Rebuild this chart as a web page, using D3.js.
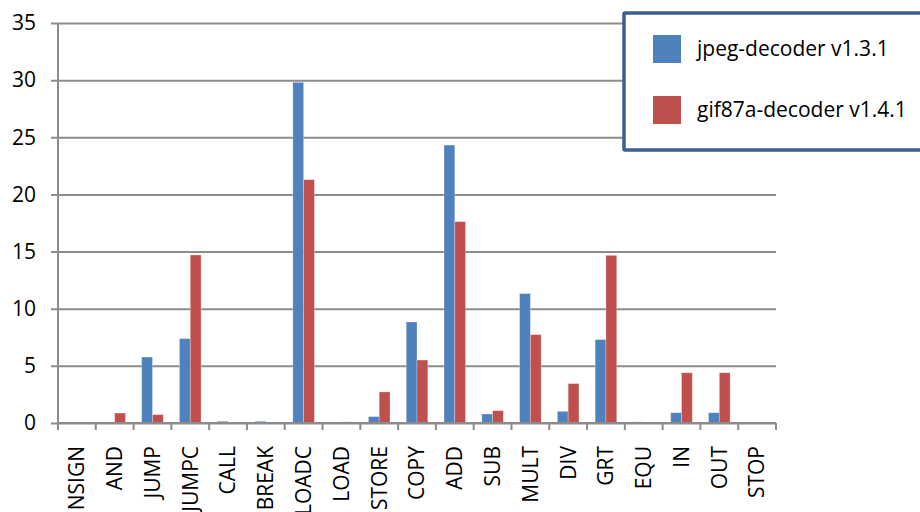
<!DOCTYPE html>
<html>
<head>
<meta charset="utf-8">
<script src="https://cdn.jsdelivr.net/npm/d3@7"></script>
<style>
  html, body { margin: 0; padding: 0; background: #fff; }
  svg { display: block; }
  text { font-family: "Open Sans", "Liberation Sans", sans-serif; fill: #000; }
</style>
</head>
<body>
<svg id="chart" width="920" height="512"></svg>
<script>
// Instruction mix per opcode (percent of executed instructions)
const categories = ["NSIGN", "AND", "JUMP", "JUMPC", "CALL", "BREAK", "LOADC", "LOAD",
  "STORE", "COPY", "ADD", "SUB", "MULT", "DIV", "GRT", "EQU", "IN", "OUT", "STOP"];
const seriesNames = ["jpeg-decoder v1.3.1", "gif87a-decoder v1.4.1"];
const jpegValues = [0, 0.05, 5.77, 7.38, 0.15, 0.15, 29.81, 0, 0.56, 8.84, 24.32, 0.79,
  11.32, 1.02, 7.30, 0.1, 0.9, 0.9, 0];
const gifValues = [0, 0.87, 0.73, 14.70, 0.05, 0.05, 21.29, 0.1, 2.72, 5.51, 17.62, 1.08,
  7.73, 3.45, 14.67, 0, 4.4, 4.4, 0];
const yTicks = [0, 5, 10, 15, 20, 25, 30, 35];
const colors = ["#4f81bd", "#c0504d"];

const svg = d3.select("#chart");
const plotLeft = 58, plotRight = 776, plotTop = 23, plotBottom = 423;
const fontSize = 21;

const x = d3.scaleBand().domain(categories).range([plotLeft, plotRight]).padding(0);
const inner = d3.scaleBand().domain(d3.range(seriesNames.length))
  .range([0, x.bandwidth()]).paddingInner(0).paddingOuter(0.75);
const y = d3.scaleLinear().domain([0, 35]).range([plotBottom, plotTop]);

// Horizontal gridlines with y tick labels
const yAxis = d3.axisLeft(y).tickValues(yTicks).tickSize(-(plotRight - 51)).tickPadding(14);
const gy = svg.append("g").attr("transform", `translate(51,0)`).call(yAxis);
gy.select(".domain").remove();
gy.selectAll(".tick line").attr("stroke", "#8c8c8c").attr("stroke-width", 2);
gy.selectAll(".tick text").attr("font-size", fontSize).attr("x", -15)
  .attr("font-family", "'Open Sans', sans-serif");

// Vertical axis line
svg.append("line").attr("x1", plotLeft).attr("x2", plotLeft)
  .attr("y1", plotTop).attr("y2", plotBottom + 6)
  .attr("stroke", "#8c8c8c").attr("stroke-width", 2);

// Bars
const rows = categories.map((c, i) => ({ c, v: [jpegValues[i], gifValues[i]] }));
const groups = svg.append("g").selectAll("g").data(rows).join("g")
  .attr("transform", d => `translate(${x(d.c)},0)`);
groups.selectAll("rect").data(d => d.v.map((v, k) => ({ v, k }))).join("rect")
  .attr("x", d => inner(d.k))
  .attr("width", inner.bandwidth())
  .attr("y", d => y(d.v))
  .attr("height", d => y(0) - y(d.v))
  .attr("fill", d => colors[d.k])
  .attr("stroke", "rgba(255,255,255,0.35)")
  .attr("stroke-width", 0.8);

// Category axis
svg.append("line").attr("x1", plotLeft).attr("x2", plotRight)
  .attr("y1", plotBottom).attr("y2", plotBottom)
  .attr("stroke", "#8c8c8c").attr("stroke-width", 2);
const tickPos = categories.map(c => x(c)).concat([plotRight]);
svg.append("g").selectAll("line").data(tickPos).join("line")
  .attr("x1", d => d).attr("x2", d => d).attr("y1", plotBottom).attr("y2", plotBottom + 7)
  .attr("stroke", "#8c8c8c").attr("stroke-width", 2);
svg.append("g").selectAll("text").data(categories).join("text")
  .attr("transform", d => `translate(${x(d) + x.bandwidth() / 2},446) rotate(-90)`)
  .attr("text-anchor", "end")
  .attr("dy", "0.35em")
  .attr("font-size", fontSize)
  .text(d => d);

// Legend
const lg = svg.append("g");
lg.append("rect").attr("x", 624).attr("y", 13).attr("width", 310).attr("height", 137)
  .attr("fill", "#fff").attr("stroke", "#3d5f8e").attr("stroke-width", 3.5).attr("rx", 1);
seriesNames.forEach((name, k) => {
  const cy = 49 + k * 61;
  lg.append("rect").attr("x", 653).attr("y", cy - 14).attr("width", 28).attr("height", 28)
    .attr("fill", colors[k]);
  lg.append("text").attr("x", 697).attr("y", cy).attr("dy", "0.35em")
    .attr("font-size", fontSize).text(name);
});
</script>
</body>
</html>
